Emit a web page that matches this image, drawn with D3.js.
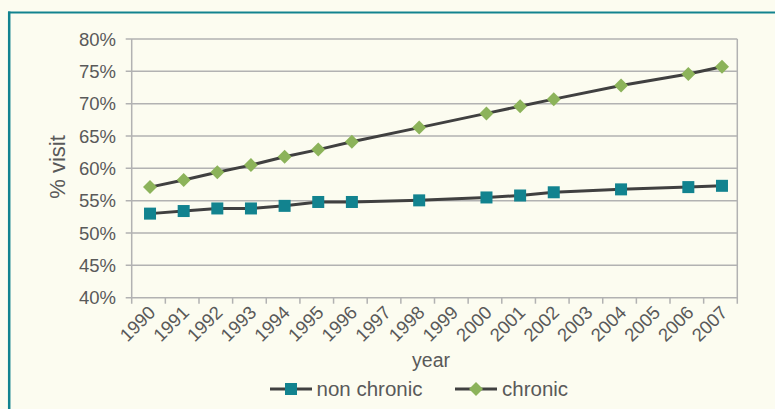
<!DOCTYPE html>
<html>
<head>
<meta charset="utf-8">
<script src="https://cdn.jsdelivr.net/npm/d3@7"></script>
<style>
  html, body { margin: 0; padding: 0; background: #fcfcf0; }
  svg { display: block; font-family: "Liberation Sans", Arial, sans-serif; }
</style>
</head>
<body>
<svg id="chart" width="775" height="409"></svg>
<script>
// Datos
const years = ["1990","1991","1992","1993","1994","1995","1996","1997","1998",
               "1999","2000","2001","2002","2003","2004","2005","2006","2007"];
const seriesYears = ["1990","1991","1992","1993","1994","1995","1996","1998",
                     "2000","2001","2002","2004","2006","2007"];
const nonChronic = [53.0, 53.4, 53.8, 53.8, 54.2, 54.8, 54.8, 55.05,
                    55.5, 55.8, 56.3, 56.75, 57.1, 57.3];
const chronic = [57.1, 58.2, 59.4, 60.5, 61.8, 62.9, 64.1, 66.3,
                 68.5, 69.6, 70.7, 72.8, 74.6, 75.7];
const yTicks = [40, 45, 50, 55, 60, 65, 70, 75, 80];

const svg = d3.select("#chart");
const textColor = "#595959";
const gridColor = "#b2b2b2";
const lineColor = "#404040";
const teal = "#12838f";
const green = "#8cb35a";

// Marco del panel
svg.append("rect").attr("width", 775).attr("height", 409).attr("fill", "#fcfcf0");
svg.append("line").attr("x1", 8).attr("x2", 775).attr("y1", 12.5).attr("y2", 12.5)
  .attr("stroke", teal).attr("stroke-width", 2);
svg.append("line").attr("x1", 9.2).attr("x2", 9.2).attr("y1", 11.5).attr("y2", 409)
  .attr("stroke", teal).attr("stroke-width", 2.5);

const plotLeft = 131.7, plotRight = 737.3, plotTop = 39, plotBottom = 297.7;

const x = d3.scaleBand().domain(years).range([plotLeft, plotRight]);
const y = d3.scaleLinear().domain([40, 80]).range([plotBottom, plotTop]);
const cx = d => x(d) + x.bandwidth() / 2 + 1.5;

// Rejilla horizontal
svg.append("g").selectAll("line").data(yTicks).enter().append("line")
  .attr("x1", plotLeft - 6).attr("x2", plotRight)
  .attr("y1", d => y(d)).attr("y2", d => y(d))
  .attr("stroke", gridColor).attr("stroke-width", 1.5);

// Ejes
svg.append("line").attr("x1", plotLeft).attr("x2", plotLeft).attr("y1", plotTop).attr("y2", plotBottom + 6)
  .attr("stroke", gridColor).attr("stroke-width", 1.5);
svg.append("line").attr("x1", plotRight).attr("x2", plotRight).attr("y1", plotTop).attr("y2", plotBottom + 6)
  .attr("stroke", gridColor).attr("stroke-width", 1.5);
svg.append("g").selectAll("line").data(years.slice(1)).enter().append("line")
  .attr("x1", d => x(d)).attr("x2", d => x(d))
  .attr("y1", plotBottom).attr("y2", plotBottom + 6)
  .attr("stroke", gridColor).attr("stroke-width", 1.5);

// Etiquetas eje Y
svg.append("g").selectAll("text").data(yTicks).enter().append("text")
  .attr("x", 116).attr("y", d => y(d))
  .attr("dy", "0.36em")
  .attr("text-anchor", "end")
  .attr("fill", textColor)
  .style("font-size", "18.5px")
  .text(d => d + "%");

// Etiquetas eje X
svg.append("g").selectAll("text").data(years).enter().append("text")
  .attr("transform", d => `translate(${x(d) + x.bandwidth() / 2 + 8},${plotBottom + 16}) rotate(-45)`)
  .attr("text-anchor", "end")
  .attr("fill", textColor)
  .style("font-size", "18.5px")
  .text(d => d);

// Títulos de ejes
svg.append("text")
  .attr("transform", "translate(65,167) rotate(-90)")
  .attr("text-anchor", "middle")
  .attr("fill", textColor)
  .style("font-size", "22px")
  .text("% visit");
svg.append("text")
  .attr("x", 431).attr("y", 367)
  .attr("text-anchor", "middle")
  .attr("fill", textColor)
  .style("font-size", "19.5px")
  .text("year");

// Líneas
const line = d3.line().x(d => cx(d[0])).y(d => y(d[1]));
const series = [
  { name: "non chronic", values: nonChronic, marker: "square", color: teal },
  { name: "chronic", values: chronic, marker: "diamond", color: green }
];

series.forEach(s => {
  const pts = seriesYears.map((yr, i) => [yr, s.values[i]]);
  svg.append("path")
    .attr("d", line(pts))
    .attr("fill", "none")
    .attr("stroke", lineColor)
    .attr("stroke-width", 3);
});

function drawMarker(g, type, color, px, py) {
  if (type === "square") {
    g.append("rect")
      .attr("x", px - 6).attr("y", py - 6)
      .attr("width", 12).attr("height", 12)
      .attr("fill", color);
  } else {
    g.append("path")
      .attr("d", `M ${px} ${py - 7} L ${px + 7} ${py} L ${px} ${py + 7} L ${px - 7} ${py} Z`)
      .attr("fill", color);
  }
}

series.forEach(s => {
  const g = svg.append("g");
  seriesYears.forEach((yr, i) => drawMarker(g, s.marker, s.color, cx(yr), y(s.values[i])));
});

// Leyenda
const legendItems = [
  { s: series[0], x0: 270, tx: 316.5 },
  { s: series[1], x0: 455, tx: 502 }
];
legendItems.forEach(item => {
  const g = svg.append("g");
  g.append("line").attr("x1", item.x0).attr("x2", item.x0 + 42)
    .attr("y1", 389).attr("y2", 389)
    .attr("stroke", lineColor).attr("stroke-width", 3);
  drawMarker(g, item.s.marker, item.s.color, item.x0 + 21, 389);
  g.append("text")
    .attr("x", item.tx).attr("y", 396)
    .attr("fill", textColor)
    .style("font-size", "20.5px")
    .text(item.s.name);
});
</script>
</body>
</html>
